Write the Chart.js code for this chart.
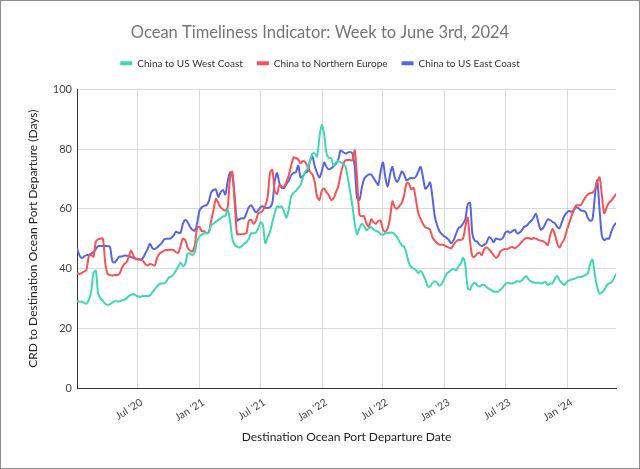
<!DOCTYPE html>
<html><head><meta charset="utf-8">
<script src="https://cdn.jsdelivr.net/npm/chart.js@4.4.1/dist/chart.umd.min.js"></script>
<style>html,body{margin:0;padding:0;background:#fff}#wrap{width:640px;height:469px;position:relative}canvas{display:block}</style>
</head><body><div id="wrap"><canvas id="c" width="640" height="469"></canvas></div>
<script>
// ---- data (weekly observations, first week starting 2020-01-03) ----
const startDate = '2020-01-03';
const seriesNames = ['China to US West Coast', 'China to Northern Europe', 'China to US East Coast'];
const westCoast = [
29,29,28.9,28.5,28.2,29.5,32,38.5,39.2,31.5,
30,29.2,28.2,27.9,28,28.6,29,29,29,29.3,
29.5,30,30.8,31.2,31.5,31,30.7,30.5,30.8,30.8,
30.8,31,32,33,34,34.8,35,35,35.7,37,
37.3,38,39.3,40.5,42,40.8,41.5,45,45,44.5,
45.5,49,50.7,51.3,51.8,51.8,52,54.5,55,55.7,
56.2,56.8,57.4,57.6,59.8,56,50,48,47.3,47,
47.5,48.2,48.8,50,51.8,51.8,52,53.5,55.5,54.5,
48.5,50.5,52.2,55.5,58.5,60.8,60.5,60.8,59,57,
60,64,65.3,66,67,68,70.5,72.5,73.5,76,
78.5,78.5,77.5,84,88,85,78.5,77,77,74.5,
75.5,76,75.5,75,74.3,70.5,66,61,55,51.5,
53.5,55,54.2,52.8,53.5,53.8,53,52.6,52.3,51.5,
51.3,51.8,52,52,52,51.5,50.5,49,47.8,47.3,
45,41.8,40.5,40,39.5,38.5,39.2,38,36.3,34,
34,35.2,35.7,35.2,34.2,35,36.5,38.2,38.8,39.5,
39.8,39.4,40.6,41.5,43.5,41,33.5,33,34.6,35.2,
34.4,34,34.5,34.5,33.8,33.2,32.8,32.3,32.2,32.3,
33,33.8,34.8,35.2,35,35,35.3,35.8,35.6,36,
37,37.4,36.2,35.7,35.3,35.2,35.2,35,35.2,35.5,
34.5,35,35,36.5,37.5,36,35.2,34.5,35.4,36,
36.3,36.5,36.8,37.2,37.2,37.4,37.8,38.3,41.5,43,
38,33.8,31.6,32,32.8,34.3,35,35.3,36.5,38.2
];
const northernEurope = [
38.4,38.2,38.5,39,39.5,44,44.5,44,49,49.8,
50,50,42,38.2,37.8,37.7,37.8,37.8,38.2,40,
41.5,42,44,46,44.2,43.2,43,43,42.6,41.5,
41,41.5,41.3,41,43.5,45,45.5,46,46.2,46.2,
46.3,46.2,45.5,45.2,47.5,50,49.5,47,46,45.7,
47.5,53.5,54,52.5,52.5,51.8,52.3,56,59.5,63.3,
62,60.5,59.8,59.4,60.5,70,72.4,62,51.5,51.5,
51.5,51.6,51.8,56,56.3,55,56,58.5,58.8,59.5,
61,64,72,73,66,65,68,67.5,67.5,69,
71.3,74.5,77.2,77,76.5,75.2,76,75.5,74,72.4,
71.5,69,64,63,66,66.8,65.5,64.5,63,63.5,
65.5,67.5,71.5,74.5,76.3,76.3,76.3,76.2,79.5,70,
58,57.5,57.5,55,54,56.5,55.5,55,56,56,
53,52.3,53.5,57,62.5,60.5,60,61,62,64.5,
68.5,68.5,66.5,67,63,58.5,56.5,55,53.8,53.5,
53,50.5,49.3,48.5,48,48,47.8,47.4,47,46.8,
48,49,49.6,49.5,50,54,57,49,44,44,
45,45.3,44.5,46.5,47,46.5,45.5,44.5,43.6,44.3,
45.8,46.3,46.5,46.5,47,47.2,46.8,47.3,48,49,
49.8,50.2,50.2,49.8,50.2,50,49.6,49.3,49.2,48.6,
47.8,51,53.2,51.5,48.5,47,48.5,49.8,52.5,55,
57.3,59.5,61,61.2,61.2,62.5,63.8,64.8,65.2,65.4,
66.5,69,70.5,64.5,58.5,60.5,62,62.7,63.8,65
];
const eastCoast = [
46.8,44.5,43.5,44,44.5,44.5,45,45.5,46.5,47.5,
47.5,47.5,47.5,47.5,47.3,42.5,42,43,44,44,
44.3,44.3,44.2,43.8,43.5,43.3,43.2,43,43.5,45,
46.5,48.3,46.8,46.5,47,47.8,48.5,49.7,50,50,
50.2,51,52.3,52,52,55,56.3,55.5,54,53,
52.7,55,59.3,60.5,61,61.2,62.5,65.5,66.3,66.4,
64,65.5,66.3,64.8,69,72.2,71,64,56,56.5,
56.8,56.8,58.5,60.5,61.2,60,58.8,59.5,60.5,60.8,
60.3,60.3,60.5,62,69,72,68.5,67,67,68.3,
69.5,71.2,72,72.2,74.5,70.5,71,72,72.5,76,
77.5,74.3,72,70.5,72.5,75.5,74,73.2,73.5,74.2,
75,76.5,79.5,79,78.5,78.8,79,78.5,74,63.5,
63,67,70,71,71.5,71.5,70.3,69,68,72.5,
75.5,70.5,67.5,71.5,74,70.5,69,70.5,72.5,71.5,
69.5,70,70.3,70.2,70.8,72.5,74,70.5,66.7,67.5,
68.8,64,57.5,54.5,52.5,51.5,50.8,50.3,49.5,48.5,
49.5,51.5,53.5,54,55,56.5,61.5,62,51.5,49.3,
49,48,47.5,48,48.6,50.5,50,48.8,50,49.8,
49.7,50.3,52,52.5,52,52.5,53,51.8,52,52.8,
54,54.3,55.2,56,57,58.3,55.5,53,53.5,55,
56.5,56.2,55.6,55.2,54,53.5,55.5,57.5,58.6,59.3,
59,59.5,60.5,60.2,59.5,59.3,59,57,56,56.5,
64,69.5,60,51,49.5,50,50,52.3,54.2,55.3
];
const tickDates = ['2020-07-01','2021-01-01','2021-07-01','2022-01-01','2022-07-01','2023-01-01','2023-07-01','2024-01-01'];
const tickLabels = ["Jul '20","Jan '21","Jul '21","Jan '22","Jul '22","Jan '23","Jul '23","Jan '24"];
const yTicks = [0, 20, 40, 60, 80, 100];
const seriesColors = ['#3fd8b3', '#f65356', '#5766e0'];

// ---- helpers ----
const DAY = 86400000;
const dayOf = s => Math.round((Date.parse(s + 'T00:00:00Z') - Date.parse(startDate + 'T00:00:00Z')) / DAY);
const tickDays = tickDates.map(dayOf);
const toPoints = arr => arr.map((v, i) => ({x: i * 7, y: v}));
const lastDay = (westCoast.length - 1) * 7;

const FONT = 'Lato, "Open Sans", sans-serif';

const frame = {
  id: 'frame',
  beforeDraw(chart) {
    const c = chart.ctx; c.save(); c.fillStyle = '#fff'; c.fillRect(0, 0, chart.width, chart.height); c.restore();
  },
  afterDraw(chart) {
    const c = chart.ctx; c.save(); c.strokeStyle = '#8c8c8c'; c.lineWidth = 1;
    c.strokeRect(0.5, 0.5, chart.width - 1, chart.height - 1); c.restore();
  }
};

new Chart(document.getElementById('c'), {
  type: 'line',
  data: {
    datasets: [westCoast, northernEurope, eastCoast].map((arr, k) => ({
      label: seriesNames[k],
      data: toPoints(arr),
      borderColor: seriesColors[k],
      backgroundColor: seriesColors[k],
      borderWidth: 2,
      pointRadius: 0,
      tension: 0.3,
      fill: false
    }))
  },
  options: {
    responsive: false,
    animation: false,
    devicePixelRatio: 1,
    layout: {padding: 0},
    plugins: {
      title: {
        display: true,
        text: 'Ocean Timeliness Indicator: Week to June 3rd, 2024',
        color: '#757575',
        font: {family: FONT, size: 16.5, weight: 'normal', lineHeight: 1.2},
        padding: {top: 23.1, bottom: 1.4}
      },
      subtitle: {
        display: true, text: '', weight: 500,
        font: {size: 1, lineHeight: 1},
        padding: {top: 0, bottom: 10}
      },
      legend: {
        display: true,
        position: 'top',
        labels: {
          color: '#333',
          font: {family: FONT, size: 10},
          boxWidth: 12,
          boxHeight: 4,
          padding: 14,
          generateLabels(chart) {
            return Chart.defaults.plugins.legend.labels.generateLabels(chart).map(l => ({...l, lineWidth: 0, fillStyle: l.strokeStyle}));
          }
        }
      },
      tooltip: {enabled: false}
    },
    scales: {
      x: {
        type: 'linear',
        min: 0,
        max: lastDay,
        afterBuildTicks(scale) { scale.ticks = tickDays.map(v => ({value: v})); },
        afterFit(scale) { scale.height = 81; },
        ticks: {
          autoSkip: false,
          minRotation: 32,
          maxRotation: 32,
          padding: 8,
          labelOffset: 4,
          color: '#444',
          font: {family: FONT, size: 10.5},
          callback(value) { const k = tickDays.indexOf(value); return k >= 0 ? tickLabels[k] : ''; }
        },
        grid: {color: '#dadada', drawTicks: false},
        border: {color: '#333', width: 1},
        title: {
          display: true,
          text: 'Destination Ocean Port Departure Date',
          color: '#222',
          font: {family: FONT, size: 12},
          padding: {top: 4, bottom: 24.8}
        }
      },
      y: {
        min: 0,
        max: 100,
        afterBuildTicks(scale) { scale.ticks = yTicks.map(v => ({value: v})); },
        afterFit(scale) { scale.width = 77; },
        ticks: {padding: 5, color: '#444', font: {family: FONT, size: 11}},
        grid: {color: '#dadada', drawTicks: false},
        border: {color: '#333', width: 1},
        title: {
          display: true,
          text: 'CRD to Destination Ocean Port Departure (Days)',
          color: '#222',
          font: {family: FONT, size: 12},
          padding: {top: 25.8, bottom: 0}
        }
      },
      rightSpace: {
        type: 'linear',
        position: 'right',
        display: true,
        afterFit(scale) { scale.width = 24; },
        ticks: {display: false},
        grid: {display: false, drawTicks: false},
        border: {display: false}
      }
    }
  },
  plugins: [frame]
});
</script>
</body></html>
